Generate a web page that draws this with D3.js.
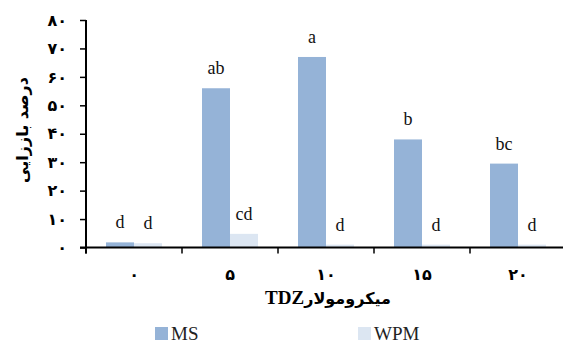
<!DOCTYPE html>
<html>
<head>
<meta charset="utf-8">
<script src="https://cdn.jsdelivr.net/npm/d3@7"></script>
<style>
  body { margin: 0; background: #fff; }
  svg { display: block; }
</style>
</head>
<body>
<div id="container"></div>
<script>
var width = 563;
var height = 343;

// data
var categories = ["۰", "۵", "۱۰", "۱۵", "۲۰"];
var seriesNames = ["MS", "WPM"];
var msValues = [1.8, 56, 67, 38, 29.5];
var wpmValues = [1.5, 4.8, 1, 1, 1];
var msLetters = ["d", "ab", "a", "b", "bc"];
var wpmLetters = ["d", "cd", "d", "d", "d"];
var yTicks = [0, 10, 20, 30, 40, 50, 60, 70, 80];
var colors = ["#95b3d7", "#dce6f2"];

var persianFont = "'DejaVu Sans', sans-serif";
var serifFont = "'Liberation Serif', 'DejaVu Serif', serif";

function toPersian(n) {
  return String(n).replace(/[0-9]/g, function(c){ return "۰۱۲۳۴۵۶۷۸۹"[+c]; });
}

var plot = {left: 86, right: 566, top: 20, bottom: 247.5};

const SVG = d3.select("#container")
              .append("svg")
              .attr("width", width)
              .attr("height", height)

const x = d3.scaleBand()
            .domain(categories)
            .range([plot.left, plot.right])

const xInner = d3.scaleBand()
                 .domain(seriesNames)
                 .range([0, x.bandwidth()])
                 .paddingInner(0)
                 .paddingOuter(0.714)

const y = d3.scaleLinear()
            .domain([0, 80])
            .range([plot.bottom, plot.top])

const rows = categories.map((c, i) => ({
  cat: c,
  bars: [
    {series: "MS", value: msValues[i], letter: msLetters[i]},
    {series: "WPM", value: wpmValues[i], letter: wpmLetters[i]}
  ]
}));

const color = d3.scaleOrdinal(seriesNames, colors);

// bars
const GROUP = SVG.selectAll("g.cat")
                 .data(rows)
                 .enter()
                 .append("g")
                 .attr("class", "cat")
                 .attr("transform", (d) => `translate(${x(d.cat)},0)`)

GROUP.selectAll("rect")
     .data((d) => d.bars)
     .enter()
     .append("rect")
     .attr("x", (d) => xInner(d.series))
     .attr("y", (d) => y(d.value))
     .attr("width", xInner.bandwidth())
     .attr("height", (d) => y(0) - y(d.value))
     .attr("fill", (d) => color(d.series))

GROUP.selectAll("text")
     .data((d) => d.bars)
     .enter()
     .append("text")
     .attr("x", (d) => xInner(d.series) + xInner.bandwidth() / 2)
     .attr("y", (d) => y(d.value) - 14)
     .attr("text-anchor", "middle")
     .style("font-family", serifFont)
     .style("font-size", "18px")
     .attr("fill", "#111")
     .text((d) => d.letter)

// y axis
const yAxis = SVG.append("g")
                 .attr("transform", `translate(${plot.left},0)`)
                 .call(d3.axisLeft(y)
                         .tickValues(yTicks)
                         .tickSize(6)
                         .tickPadding(13)
                         .tickSizeOuter(0)
                         .tickFormat(toPersian))
yAxis.select(".domain").attr("stroke", "#000").attr("stroke-width", 2)
     .attr("d", `M0,${plot.top}V${plot.bottom + 6}`)
yAxis.selectAll(".tick line").attr("stroke", "#000").attr("stroke-width", 1.5)
yAxis.selectAll(".tick text")
     .style("font-family", persianFont)
     .style("font-weight", "bold")
     .style("font-size", "16px")
     .attr("fill", "#000")

// x axis
const xAxis = SVG.append("g")
                 .attr("transform", `translate(0,${plot.bottom})`)
                 .call(d3.axisBottom(x)
                         .tickSize(0)
                         .tickPadding(21)
                         .tickSizeOuter(0))
xAxis.select(".domain").attr("stroke", "#000").attr("stroke-width", 2)
     .attr("d", `M${plot.left - 6},0H${plot.right}`)
xAxis.selectAll(".tick text")
     .style("font-family", persianFont)
     .style("font-weight", "bold")
     .style("font-size", "16px")
     .attr("fill", "#000")

// boundary ticks between categories
xAxis.selectAll("line.sep")
     .data(categories.map((c) => x(c)).concat([plot.right]))
     .enter()
     .append("line")
     .attr("class", "sep")
     .attr("x1", (d) => d)
     .attr("x2", (d) => d)
     .attr("y1", 0)
     .attr("y2", 6)
     .attr("stroke", "#000")
     .attr("stroke-width", 1.5)

// axis titles
const xTitle = SVG.append("text")
                  .attr("x", 328)
                  .attr("y", 304)
                  .attr("text-anchor", "middle")
                  .style("font-weight", "bold")
                  .attr("fill", "#000")
xTitle.append("tspan")
      .style("font-family", serifFont)
      .style("font-size", "19px")
      .text("TDZ")
xTitle.append("tspan")
      .style("font-family", persianFont)
      .style("font-size", "16px")
      .text("میکرومولار")

SVG.append("text")
   .attr("transform", "translate(28,130) rotate(-90)")
   .attr("text-anchor", "middle")
   .style("font-family", persianFont)
   .style("font-weight", "bold")
   .style("font-size", "16px")
   .attr("fill", "#000")
   .text("درصد باززایی")

// legend
const LEGEND = SVG.selectAll("g.legend")
                  .data(seriesNames)
                  .enter()
                  .append("g")
                  .attr("class", "legend")
                  .attr("transform", (d, i) => `translate(${[155, 358][i]},327)`)

LEGEND.append("rect")
      .attr("width", 13)
      .attr("height", 13)
      .attr("fill", (d) => color(d))

LEGEND.append("text")
      .attr("x", 16)
      .attr("y", 13)
      .style("font-family", serifFont)
      .style("font-size", "19px")
      .attr("fill", "#222")
      .text((d) => d)
</script>
</body>
</html>
